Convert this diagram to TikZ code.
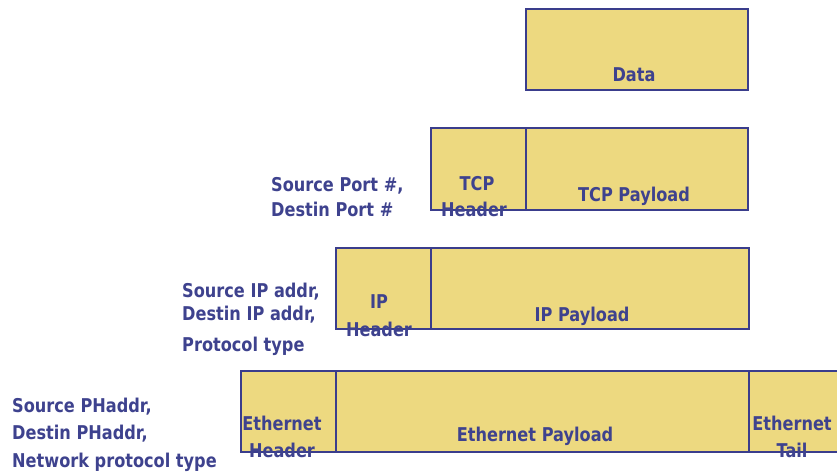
\documentclass[tikz,border=0pt]{standalone}
\usepackage{fontspec}
\setmainfont{DejaVu Sans}[FakeStretch=0.85]
\definecolor{cellfill}{RGB}{237,217,128}
\definecolor{cellline}{RGB}{58,61,140}
\definecolor{inktext}{RGB}{62,66,142}
\tikzset{
  cell/.style={draw=cellline, line width=2.6pt, fill=cellfill, inner sep=0pt,
               outer sep=0pt, anchor=north west},
  lbl/.style={text=inktext, font=\bfseries\fontsize{19}{24}\selectfont,
              inner sep=0pt, anchor=base},
  side/.style={lbl, anchor=base west}
}
\begin{document}
\begin{tikzpicture}[x=1pt, y=-1pt]
  \useasboundingbox (0,0) rectangle (837,473);
  \clip (0,0) rectangle (837,473);

  % application data
  \node[cell, minimum width=222pt, minimum height=81pt] (data) at (526,9) {};
  \node[lbl] (dataT) at (634,82) {Data};

  % TCP segment
  \node[cell, minimum width=95pt,  minimum height=82pt] (tcph) at (431,128) {};
  \node[cell, minimum width=222pt, minimum height=82pt] (tcpp) at (526,128) {};
  \node[lbl] (tcphA) at (477,190) {TCP};
  \node[lbl] (tcphB) at (474,216) {Header};
  \node[lbl] (tcppT) at (634,201) {TCP Payload};
  \node[side] (portA) at (271,191) {Source Port \#,};
  \node[side] (portB) at (271,216) {Destin Port \#};

  % IP packet
  \node[cell, minimum width=95pt,  minimum height=81pt] (iph) at (336,248) {};
  \node[cell, minimum width=318pt, minimum height=81pt] (ipp) at (431,248) {};
  \node[lbl] (iphA) at (379,308) {IP};
  \node[lbl] (iphB) at (379,336) {Header};
  \node[lbl] (ippT) at (582,321) {IP Payload};
  \node[side] (ipA) at (182,297) {Source IP addr,};
  \node[side] (ipB) at (182,320) {Destin IP addr,};
  \node[side] (ipC) at (182,351) {Protocol type};

  % Ethernet frame
  \node[cell, minimum width=95pt,  minimum height=81pt] (ethh) at (241,371) {};
  \node[cell, minimum width=413pt, minimum height=81pt] (ethp) at (336,371) {};
  \node[cell, minimum width=100pt, minimum height=81pt] (etht) at (749,371) {};
  \node[lbl] (ethhA) at (282,430) {Ethernet};
  \node[lbl] (ethhB) at (282,457) {Header};
  \node[lbl] (ethpT) at (535,441) {Ethernet Payload};
  \node[lbl] (ethtA) at (792,430) {Ethernet};
  \node[lbl] (ethtB) at (792,457) {Tail};
  \node[side] (phA) at (12,412) {Source PHaddr,};
  \node[side] (phB) at (12,439) {Destin PHaddr,};
  \node[side] (phC) at (12,467) {Network protocol type};
\end{tikzpicture}
\end{document}
